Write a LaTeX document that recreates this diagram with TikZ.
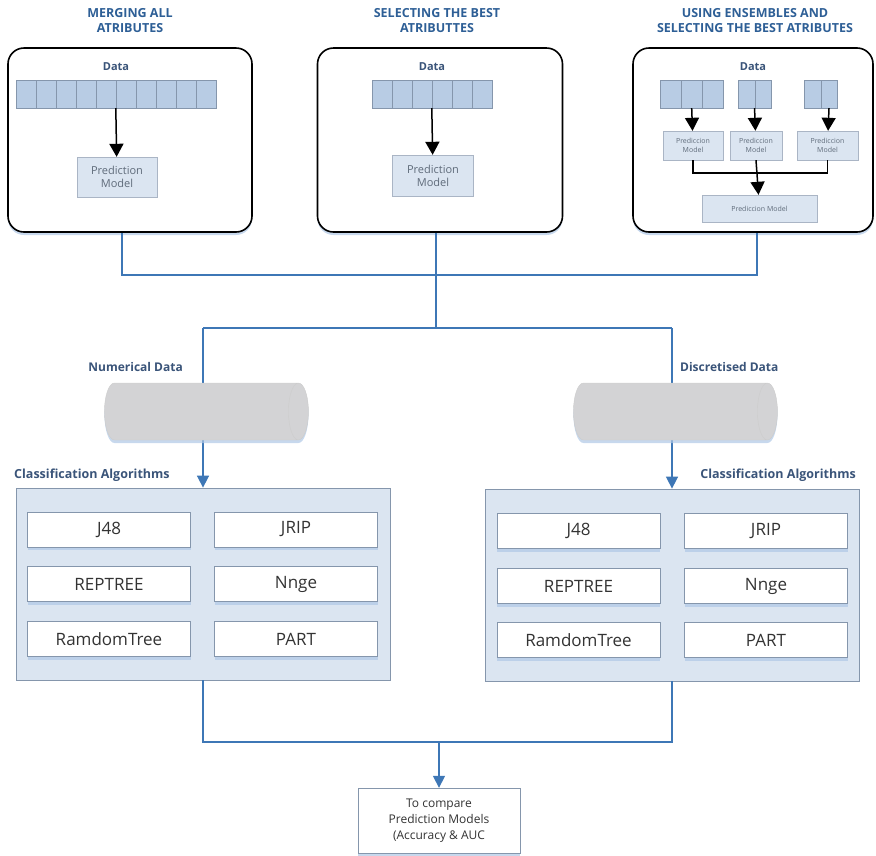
\documentclass[tikz,border=0pt]{standalone}
\usepackage{fontspec}
\setmainfont{Open Sans}
\usetikzlibrary{arrows.meta,shapes.geometric,shadows}

\definecolor{titleblue}{HTML}{2E5F96}
\definecolor{labelblue}{HTML}{3A5479}
\definecolor{flowblue}{HTML}{3E77B6}
\definecolor{paleblue}{HTML}{DBE5F1}
\definecolor{cellblue}{HTML}{B8CCE4}
\definecolor{edgegrey}{HTML}{8596AC}
\definecolor{glowblue}{HTML}{AFC8E6}
\definecolor{textgrey}{HTML}{5F6B7A}
\definecolor{storegrey}{HTML}{D3D3D5}

\tikzset{
  heading/.style={align=center, text=titleblue, inner sep=0pt,
    font=\bfseries\fontsize{12.5}{15}\selectfont},
  glow/.style={general shadow={fill=glowblue, shadow yshift=-3pt, opacity=.7}},
  panel/.style={draw=black, line width=1.6pt, rounded corners=16pt, fill=white, glow},
  cell/.style={draw=edgegrey, fill=cellblue, minimum height=28pt, inner sep=0pt},
  model/.style={draw=edgegrey!70, fill=paleblue, text=textgrey, align=center, inner sep=0pt,
    font=\fontsize{11}{13}\selectfont},
  tinymodel/.style={model, font=\fontsize{7}{8.5}\selectfont},
  datalabel/.style={text=labelblue, inner sep=0pt, font=\bfseries\fontsize{11}{13}\selectfont},
  sidelabel/.style={datalabel, font=\bfseries\fontsize{12.5}{15}\selectfont},
  push/.style={draw=black, line width=1.5pt, -{Triangle[length=13pt,width=14pt]}},
  flow/.style={draw=flowblue, line width=1.6pt},
  flowto/.style={flow, -{Triangle[length=12pt,width=12pt]}},
  store/.style={cylinder, shape aspect=3, minimum height=204pt, minimum width=57pt,
    draw=gray!40, fill=storegrey, glow},
  algs/.style={draw=edgegrey, fill=paleblue, line width=.8pt, minimum width=374pt,
    minimum height=192pt},
  method/.style={draw=edgegrey, fill=white, minimum width=163pt, minimum height=35pt,
    text=black!80, font=\fontsize{17}{19}\selectfont, glow},
  result/.style={draw=edgegrey, fill=white, align=center, minimum width=162pt,
    minimum height=65pt, text=black!80, font=\fontsize{12}{16}\selectfont, glow}
}

\begin{document}
\begin{tikzpicture}[x=1pt, y=-1pt]
  \useasboundingbox (0, 0) rectangle (876, 855);

  % the three ways of building the models
  \node (merge) at (130, 140) [panel, minimum width=244pt, minimum height=184pt] {};
  \node (select) at (440, 140) [panel, minimum width=245pt, minimum height=184pt] {};
  \node (ensemble) at (753, 140) [panel, minimum width=240pt, minimum height=184pt] {};
  \node (mergetitle) at (130, 21) [heading] {MERGING ALL\\ATRIBUTES};
  \node (selecttitle) at (437, 21) [heading] {SELECTING THE BEST\\ATRIBUTTES};
  \node (ensembletitle) at (755, 21) [heading] {USING ENSEMBLES AND\\SELECTING THE BEST ATRIBUTES};

  % merging all attributes
  \node (mergedata) at (116, 67) [datalabel] {Data};
  \foreach \i in {0,...,9}
    \node (m\i) at (26+20*\i, 94) [cell, minimum width=20pt] {};
  \node (mergemodel) at (117, 177) [model, minimum width=80pt, minimum height=40pt]
    {Prediction\\Model};
  \draw [push] (m5.south west) to (mergemodel);

  % selecting the best attributes
  \node (selectdata) at (432, 67) [datalabel] {Data};
  \foreach \i in {0,...,5}
    \node (s\i) at (382+20*\i, 94) [cell, minimum width=20pt] {};
  \node (selectmodel) at (433, 175.5) [model, minimum width=81pt, minimum height=41pt]
    {Prediction\\Model};
  \draw [push] (s3.south west) to (selectmodel);

  % ensembles
  \node (ensembledata) at (753, 67) [datalabel] {Data};
  \foreach \i in {0,1,2}
    \node (a\i) at (671+20.7*\i, 94) [cell, minimum width=20.7pt] {};
  \foreach \i in {0,1}
    \node (b\i) at (746.5+16.5*\i, 94) [cell, minimum width=16.5pt] {};
  \foreach \i in {0,1}
    \node (c\i) at (812.5+16.5*\i, 94) [cell, minimum width=16.5pt] {};
  \node (pa) at (693, 145.5) [tinymodel, minimum width=60pt, minimum height=29pt]
    {Prediccion\\Model};
  \node (pb) at (756, 145.5) [tinymodel, minimum width=52pt, minimum height=29pt]
    {Prediccion\\Model};
  \node (pc) at (827.5, 145.5) [tinymodel, minimum width=61pt, minimum height=29pt]
    {Prediccion\\Model};
  \node (pall) at (759.5, 208.5) [tinymodel, minimum width=115pt, minimum height=27pt]
    {Prediccion Model};
  \draw [push] (a1.south) to (pa);
  \draw [push] (b1.south west) to (pb);
  \draw [push] (c1.south) to (pc);
  \coordinate (vote) at (756, 173);
  \draw [draw=black, line width=1.5pt] (pa.south) |- (vote) -| (pc.south);
  \draw [push] (pb.south) to (pall);

  % joining the three panels
  \coordinate (join) at (436, 275);
  \coordinate (split) at (436, 328);
  \draw [flow] ([xshift=-8pt]merge.south) |- (join) -| ([xshift=4pt]ensemble.south);
  \draw [flow] (select.south -| join) to (split);

  % classification algorithms
  \node (algsleft) at (203, 584) [algs] {};
  \node (algsright) at (672, 585) [algs] {};
  \node (algsleftlabel) at (14, 482) [sidelabel, anchor=south west] {Classification Algorithms};
  \node (algsrightlabel) at (856, 482) [sidelabel, anchor=south east] {Classification Algorithms};
  \draw [flow] (split -| algsleft) -- (split -| algsright);
  \draw [flowto] (split -| algsleft) to (algsleft.north);
  \draw [flowto] (split -| algsright) to (algsright.north);

  % numerical and discretised data, on top of the lines
  \node (numdata) at (199, 411.5) [store] {};
  \node (discdata) at (668, 411.5) [store] {};
  \node (numlabel) at (183, 367) [sidelabel, font=\bfseries\fontsize{12}{14}\selectfont,
    anchor=east] {Numerical Data};
  \node (disclabel) at (680, 367) [sidelabel, font=\bfseries\fontsize{12}{14}\selectfont,
    anchor=west] {Discretised Data};

  \node (j48l) at (109, 529.5) [method] {J48};
  \node (jripl) at (296, 529.5) [method] {JRIP};
  \node (reptreel) at (109, 584) [method] {REPTREE};
  \node (nngel) at (296, 584) [method] {Nnge};
  \node (randoml) at (109, 639) [method] {RamdomTree};
  \node (partl) at (296, 639) [method] {PART};

  \node (j48r) at (578.5, 531) [method] {J48};
  \node (jripr) at (766, 531) [method] {JRIP};
  \node (reptreer) at (578.5, 586) [method] {REPTREE};
  \node (nnger) at (766, 586) [method] {Nnge};
  \node (randomr) at (578.5, 640) [method] {RamdomTree};
  \node (partr) at (766, 640) [method] {PART};

  % comparison of the models
  \node (compare) at (439, 820.5) [result] {To compare\\Prediction Models\\(Accuracy \& AUC};
  \coordinate (gather) at (439, 742);
  \draw [flow] (algsleft.south) |- (gather) -| (algsright.south);
  \draw [flowto] (gather) to (compare);
\end{tikzpicture}
\end{document}
